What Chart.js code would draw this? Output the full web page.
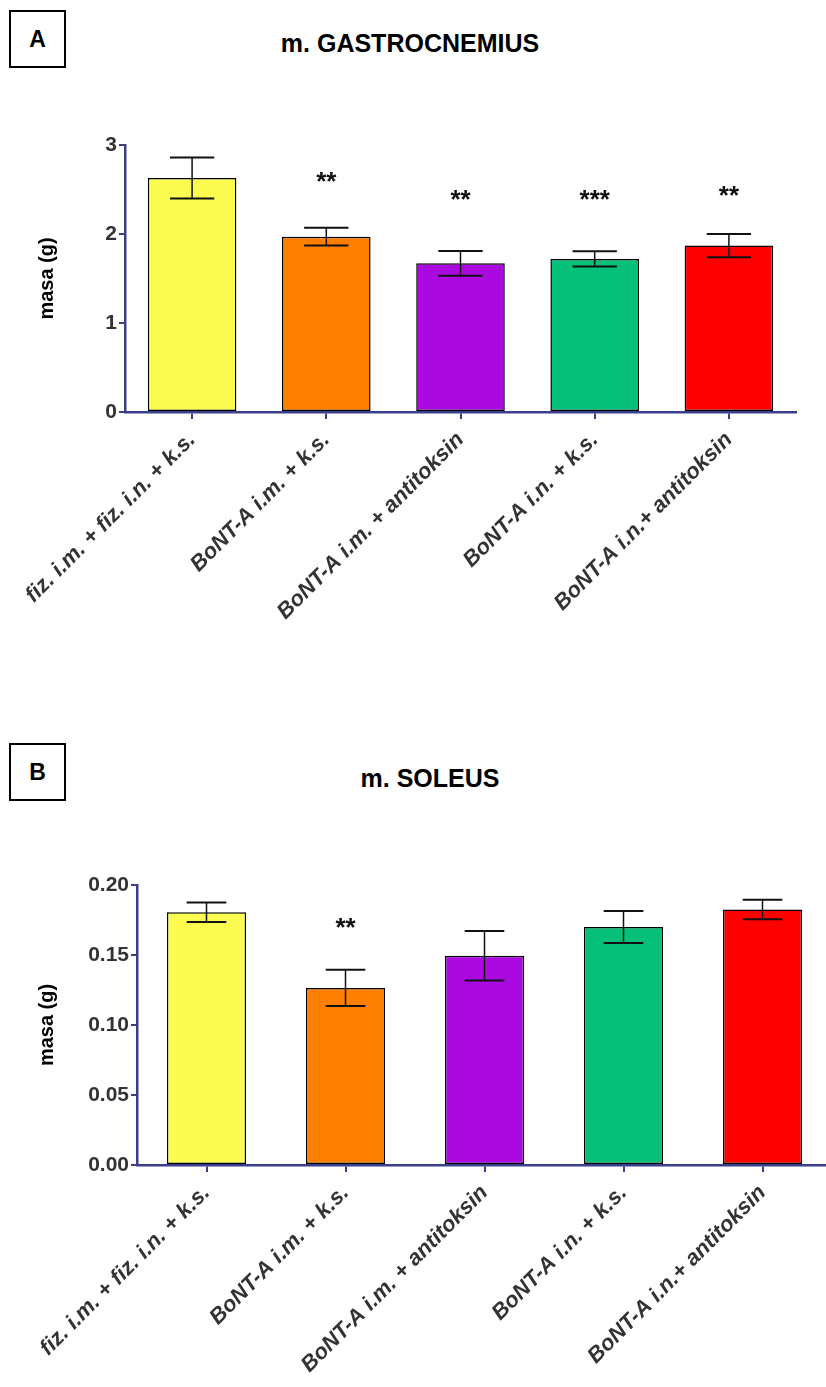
<!DOCTYPE html>
<html>
<head>
<meta charset="utf-8">
<script src="https://cdn.jsdelivr.net/npm/chart.js@4"></script>
<style>
  html, body { margin: 0; padding: 0; background: #fff; width: 826px; height: 1387px; overflow: hidden; position: relative; font-family: "Liberation Sans", Arial, sans-serif; }
  .box { position: absolute; width: 53px; height: 54px; border: 2px solid #000; font-weight: bold; font-size: 23px; display: flex; align-items: center; justify-content: center; box-sizing: content-box; }
  .title { position: absolute; font-weight: bold; font-size: 25px; color: #000; white-space: nowrap; transform: translateX(-50%); }
  .wrap { position: absolute; left: 0; }
</style>
</head>
<body>
<div class="box" style="left:9px; top:10px;">A</div>
<div class="title" style="left:410px; top:29px;">m. GASTROCNEMIUS</div>
<div class="box" style="left:9px; top:743px;">B</div>
<div class="title" style="left:430px; top:764px;">m. SOLEUS</div>

<div class="wrap" style="top:100px; width:826px; height:580px;"><canvas id="chartA"></canvas></div>
<div class="wrap" style="top:840px; width:840px; height:547px;"><canvas id="chartB"></canvas></div>

<script>
// ---------- DATA ----------
const categories = ['fiz. i.m. + fiz. i.n. + k.s.', 'BoNT-A i.m. + k.s.', 'BoNT-A i.m. + antitoksin', 'BoNT-A i.n. + k.s.', 'BoNT-A i.n.+ antitoksin'];
const barColors = ['#FCFC50', '#FF8000', '#AA0AE0', '#06BF78', '#FF0000'];

const gastroMean = [2.63, 1.97, 1.67, 1.72, 1.87];
const gastroSem = [0.23, 0.10, 0.14, 0.085, 0.13];
const gastroStars = ['', '**', '**', '***', '**'];
const gastroStarPos = [null, 2.63, 2.43, 2.43, 2.47];
const gastroTickStep = 1;
const gastroMax = 3;

const soleusMean = [0.1805, 0.1265, 0.1495, 0.170, 0.1825];
const soleusSem = [0.007, 0.013, 0.0177, 0.0114, 0.007];
const soleusStars = ['', '**', '', '', ''];
const soleusStarPos = [null, 0.172, null, null, null];
const soleusTickStep = 0.05;
const soleusMax = 0.20;

// ---------- STYLE ----------
const AXIS = '#3A3F8C';
const TXT = '#333333';
const FONT = '"Liberation Sans", Arial, sans-serif';

const errStarPlugin = {
  id: 'errStar',
  afterDatasetsDraw(chart, args, opts) {
    const ctx = chart.ctx;
    const meta = chart.getDatasetMeta(0);
    const ys = chart.scales.y;
    const ds = chart.data.datasets[0];
    ctx.save();
    meta.data.forEach((bar, i) => {
      const m = ds.data[i], s = opts.sem[i];
      const x = bar.x;
      const half = bar.width / 4;
      const yt = ys.getPixelForValue(m + s), yb = ys.getPixelForValue(m - s);
      ctx.strokeStyle = '#111';
      ctx.lineWidth = 1.5;
      ctx.beginPath(); ctx.moveTo(x, yt); ctx.lineTo(x, yb); ctx.stroke();
      ctx.lineWidth = 2;
      ctx.beginPath();
      ctx.moveTo(x - half, yt); ctx.lineTo(x + half, yt);
      ctx.moveTo(x - half, yb); ctx.lineTo(x + half, yb);
      ctx.stroke();
      if (opts.stars[i] && opts.starPos[i] != null) {
        ctx.fillStyle = '#111';
        ctx.font = 'bold 26px ' + FONT;
        ctx.textAlign = 'center';
        ctx.textBaseline = 'middle';
        ctx.fillText(opts.stars[i], x, ys.getPixelForValue(opts.starPos[i]) + 5);
      }
    });
    ctx.restore();
  }
};

function makeChart(id, mean, sem, stars, starPos, max, step, barPct, yWidth, xHeight, padRight, decimals) {
  return new Chart(document.getElementById(id), {
    type: 'bar',
    data: {
      labels: categories,
      datasets: [{
        data: mean,
        backgroundColor: barColors,
        borderColor: '#000',
        borderWidth: 1.5,
        borderSkipped: false,
        categoryPercentage: 1,
        barPercentage: barPct
      }]
    },
    options: {
      responsive: true,
      maintainAspectRatio: false,
      animation: false,
      devicePixelRatio: 1,
      layout: { padding: { top: 45, right: padRight, left: 0, bottom: 0 }, autoPadding: false },
      plugins: {
        legend: { display: false },
        tooltip: { enabled: false },
        errStar: { sem: sem, stars: stars, starPos: starPos }
      },
      scales: {
        x: {
          offset: true,
          grid: { display: true, drawOnChartArea: false, offset: false, color: AXIS, lineWidth: 2, tickLength: 7, tickWidth: 2 },
          border: { display: true, color: AXIS, width: 2.5 },
          ticks: { color: TXT, minRotation: 45, maxRotation: 45, autoSkip: false, padding: 8,
                   font: { family: FONT, size: 22, weight: 'bold', style: 'italic' } },
          afterFit(scale) { scale.height = xHeight; }
        },
        y: {
          min: 0, max: max,
          grid: { display: true, drawOnChartArea: false, color: AXIS, lineWidth: 2, tickLength: 6, tickWidth: 2 },
          border: { display: true, color: AXIS, width: 2.5 },
          ticks: { color: TXT, stepSize: step, padding: 2,
                   font: { family: FONT, size: 21, weight: 'bold' },
                   callback: (v) => Number(v).toFixed(decimals) },
          title: { display: true, text: 'masa (g)', color: '#000', padding: { top: 35, bottom: 0 },
                   font: { family: FONT, size: 20, weight: 'bold' } },
          afterFit(scale) { scale.width = yWidth; }
        }
      }
    },
    plugins: [errStarPlugin]
  });
}

makeChart('chartA', gastroMean, gastroSem, gastroStars, gastroStarPos, gastroMax, gastroTickStep, 0.66, 125, 268, 30, 0);
makeChart('chartB', soleusMean, soleusSem, soleusStars, soleusStarPos, soleusMax, soleusTickStep, 0.57, 137, 222, 8, 2);
</script>
</body>
</html>
